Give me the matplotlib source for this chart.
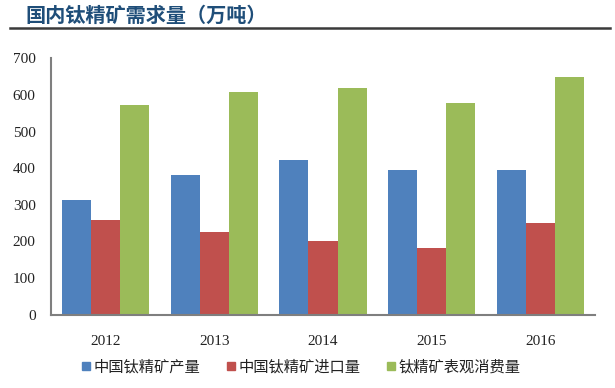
import matplotlib.pyplot as plt
import numpy as np
from matplotlib.lines import Line2D

plt.rcParams['font.family'] = ['Noto Sans CJK SC', 'DejaVu Sans']

# data
years = ['2012', '2013', '2014', '2015', '2016']
production = [314, 382, 421, 395, 396]
imports = [257, 226, 200, 182, 250]
consumption = [572, 609, 618, 579, 650]
series_names = ['中国钛精矿产量', '中国钛精矿进口量', '钛精矿表观消费量']
colors = ['#4F81BD', '#C0504D', '#9BBB59']

fig = plt.figure(figsize=(6.15, 3.88), dpi=100)
ax = fig.add_axes([0.0829, 0.1894, 0.8846, 0.6603])

x = np.arange(len(years))
w = 0.8 / 3
for i, vals in enumerate([production, imports, consumption]):
    ax.bar(x + (i - 1) * w, vals, width=w, color=colors[i], label=series_names[i])

ax.set_xlim(-0.5, len(years) - 0.5)
ax.set_ylim(0, 700)
ax.set_yticks(range(0, 701, 100))
ax.set_xticks(x)
ax.set_xticklabels(years, family='Liberation Serif', fontsize=11)
for lab in ax.get_yticklabels():
    lab.set_family('Liberation Serif')
    lab.set_fontsize(11)
ax.tick_params(axis='y', length=0, pad=11, colors='#222222')
ax.tick_params(axis='x', length=0, pad=15, colors='#222222')

for s in ['top', 'right']:
    ax.spines[s].set_visible(False)
for s in ['left', 'bottom']:
    ax.spines[s].set_color('#7f7f7f')
    ax.spines[s].set_linewidth(1.5)

# legend
handles = [Line2D([], [], marker='s', linestyle='', markersize=6,
                  markerfacecolor=c, markeredgecolor=c) for c in colors]
fig.legend(handles, series_names, loc='center', bbox_to_anchor=(300 / 615, 1 - 367 / 388),
           ncol=3, frameon=False, fontsize=11, handletextpad=0.1,
           columnspacing=1.6, handlelength=0.8, labelcolor='#222222')

# title and rule
fig.text(25 / 615, 1 - 15 / 388, '国内钛精矿需求量（万吨）', fontsize=14.5, fontweight='bold',
         color='#1F4E79', va='center', ha='left')
fig.add_artist(Line2D([10 / 615, 610 / 615], [1 - 28 / 388, 1 - 28 / 388],
                      color='#3a3a3a', linewidth=1.8))

fig.savefig('out.png', dpi=100)
